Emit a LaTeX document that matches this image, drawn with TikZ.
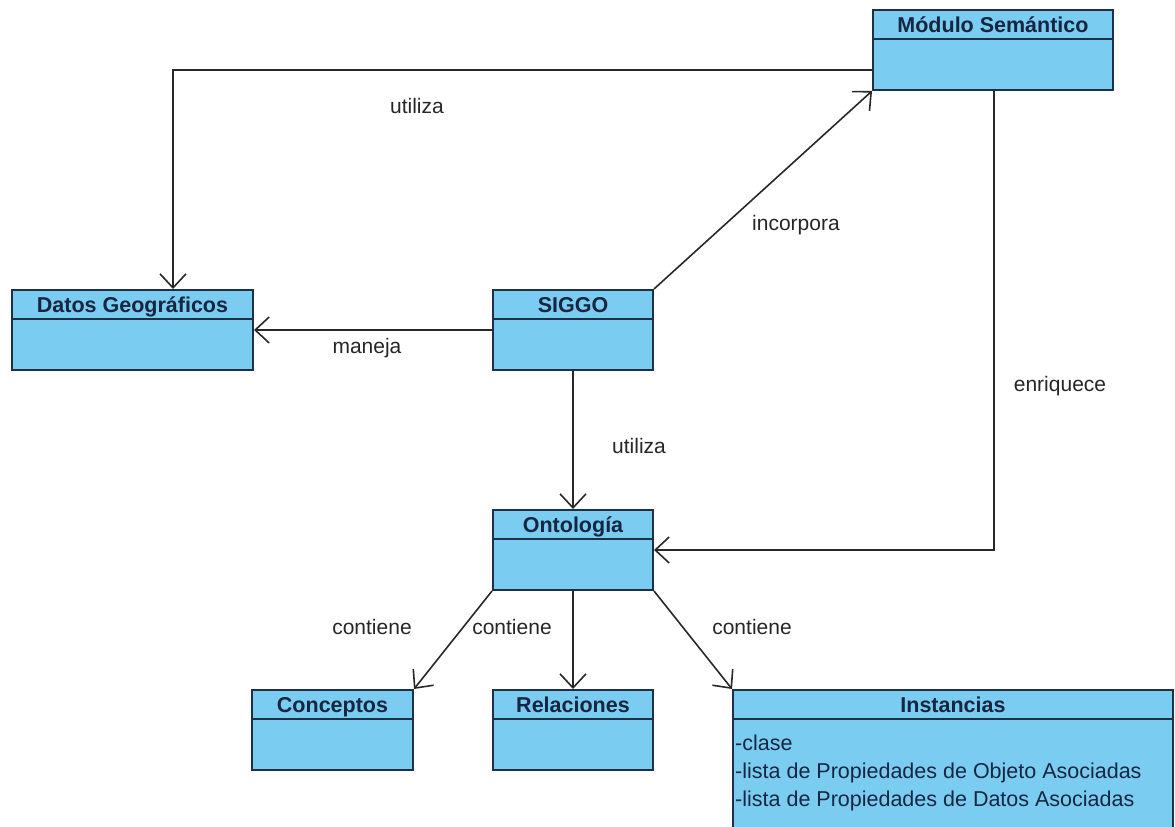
\documentclass[tikz,border=0pt]{standalone}
\usepackage{fontspec}
\setmainfont{Liberation Sans}
\usetikzlibrary{arrows.meta,calc}

\definecolor{clsfill}{RGB}{122,204,240}
\definecolor{clsborder}{RGB}{30,48,72}
\definecolor{clstext}{RGB}{22,38,64}
\definecolor{linkcol}{RGB}{40,40,40}

\tikzset{
  classbox/.style={draw=clsborder, fill=clsfill, line width=2pt, inner sep=0pt,
                   anchor=north west, minimum width=160pt, minimum height=80pt},
  classtitle/.style={font=\fontsize{21.5}{24}\selectfont\bfseries, text=clstext,
                     inner sep=0pt, anchor=base},
  attrtext/.style={font=\fontsize{21.5}{24}\selectfont, text=clstext, inner sep=0pt, anchor=base west},
  divider/.style={draw=clsborder, line width=2pt},
  assoc/.style={draw=linkcol, line width=1.6pt,
                -{Straight Barb[length=14pt,width=26pt,line width=1.6pt]}},
  linklabel/.style={font=\fontsize{21}{24}\selectfont, text=black!85, inner sep=0pt}
}

\begin{document}
\begin{tikzpicture}[x=1pt,y=-1pt]
  \clip (0,0) rectangle (1175,827);
  \fill[white] (0,0) rectangle (1175,827);

  % class boxes
  \node[classbox, minimum width=240pt] (modulo) at (872,9) {};
  \node[classbox, minimum width=241pt] (datos) at (11,289) {};
  \node[classbox] (siggo) at (492,289) {};
  \node[classbox] (onto) at (492,509) {};
  \node[classbox, minimum width=161pt] (conc) at (251,689) {};
  \node[classbox] (rel) at (492,689) {};
  \node[classbox, minimum width=440pt, minimum height=150pt] (inst) at (732,689) {};

  % header separators
  \foreach \c in {modulo,datos,siggo,onto,conc,rel,inst}
    \draw[divider] ([yshift=-30pt]\c.north west) -- ([yshift=-30pt]\c.north east);

  % class names
  \node[classtitle] (tmod) at ([yshift=-23pt]modulo.north) {Módulo Semántico};
  \node[classtitle] (tdat) at ([yshift=-23pt]datos.north) {Datos Geográficos};
  \node[classtitle] (tsig) at ([yshift=-23pt]siggo.north) {SIGGO};
  \node[classtitle] (tont) at ([yshift=-23pt]onto.north) {Ontología};
  \node[classtitle] (tcon) at ([yshift=-23pt]conc.north) {Conceptos};
  \node[classtitle] (trel) at ([yshift=-23pt]rel.north) {Relaciones};
  \node[classtitle] (tins) at ([yshift=-23pt]inst.north) {Instancias};

  % attributes of Instancias
  \node[attrtext] (a1) at ([xshift=3pt,yshift=-61pt]inst.north west) {-clase};
  \node[attrtext] (a2) at ([xshift=3pt,yshift=-89pt]inst.north west) {-lista de Propiedades de Objeto Asociadas};
  \node[attrtext] (a3) at ([xshift=3pt,yshift=-117pt]inst.north west) {-lista de Propiedades de Datos Asociadas};

  % associations
  \draw[assoc] ([yshift=-20pt]modulo.west) -| ([xshift=40.5pt]datos.north);
  \draw[assoc] (siggo.north east) -- (modulo.south west);
  \draw[assoc] (siggo.west) -- (datos.east);
  \draw[assoc] (siggo.south) -- (onto.north);
  \draw[assoc] ([xshift=1pt]modulo.south) |- (onto.east);
  \draw[assoc] (onto.south west) -- (conc.north east);
  \draw[assoc] (onto.south) -- (rel.north);
  \draw[assoc] (onto.south east) -- (inst.north west);

  % association labels
  \node[linklabel] (l1) at (417,106) {utiliza};
  \node[linklabel] (l2) at (796,225) {incorpora};
  \node[linklabel] (l3) at (367,348) {maneja};
  \node[linklabel] (l4) at (639,446) {utiliza};
  \node[linklabel] (l5) at (1060,386) {enriquece};
  \node[linklabel] (l6) at (372,627) {contiene};
  \node[linklabel] (l7) at (512,627) {contiene};
  \node[linklabel] (l8) at (752,627) {contiene};
\end{tikzpicture}
\end{document}
